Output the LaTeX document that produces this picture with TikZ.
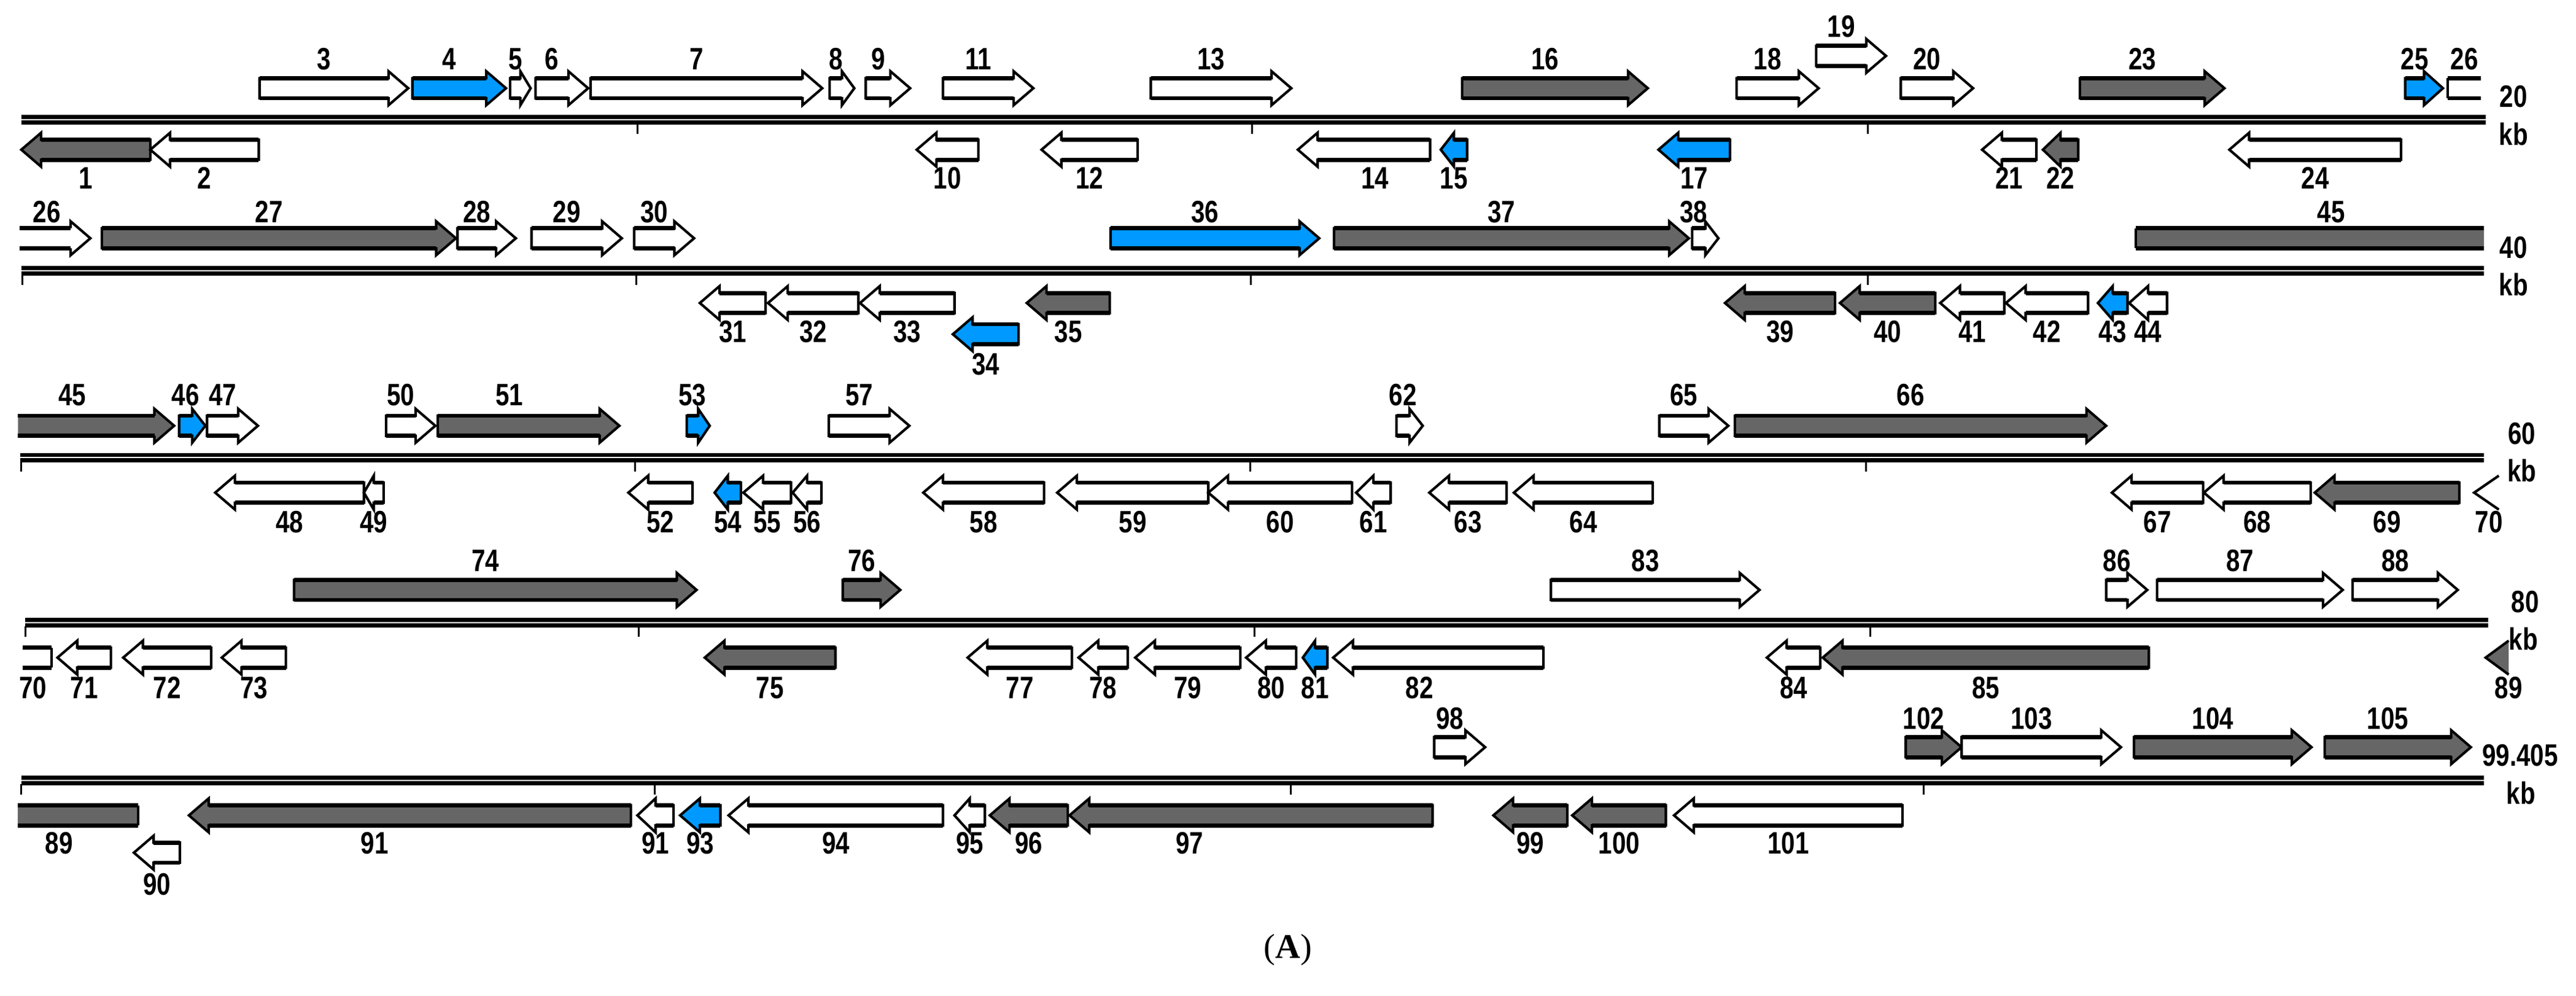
\documentclass[tikz,border=0pt]{standalone}
\usepackage{fontspec}
\setmainfont{Liberation Serif}
\newfontfamily\lblfont[FakeStretch=0.8]{Liberation Sans}
\definecolor{gg}{HTML}{666666}
\definecolor{bb}{HTML}{0099FF}
\newcounter{gn}
\def\bh{6.1}\def\hh{10.3}
\tikzset{thinedge/.style={line width=1.1pt,line join=miter},
 thickedge/.style={line width=1.8pt},
 gline/.style={line width=1.8pt},
 tickline/.style={line width=0.8pt},
 lbl/.style={font=\lblfont\bfseries\fontsize{13.4}{14}\selectfont,inner sep=0pt}}
% forward: [labx]{x1}{x2}{fill}{label}
\newcommand\gF[5][]{\stepcounter{gn}%
 \pgfmathsetmacro\hl{min(12,0.5*(#3-#2))}\pgfmathsetmacro\xa{#3-\hl}%
 \fill[#4] (#2,\yF-\bh) -- (\xa,\yF-\bh) -- (\xa,\yF-\hh) -- (#3,\yF) -- (\xa,\yF+\hh) -- (\xa,\yF+\bh) -- (#2,\yF+\bh) -- cycle;
 \draw[thinedge] (#2,\yF-\bh) -- (\xa,\yF-\bh) -- (\xa,\yF-\hh) -- (#3,\yF) -- (\xa,\yF+\hh) -- (\xa,\yF+\bh) -- (#2,\yF+\bh) -- cycle;
 \draw[thickedge] (#2,\yF-\bh) -- (\xa,\yF-\bh) (#2,\yF+\bh) -- (\xa,\yF+\bh);
 \ifx\relax#1\relax\pgfmathsetmacro\lx{(#2+\xa)/2}\else\def\lx{#1}\fi
 \node[lbl] (g\arabic{gn}) at (\lx,\yT) {#5};}
% forward, open left end
\newcommand\gFo[5][]{\stepcounter{gn}%
 \pgfmathsetmacro\hl{min(12,0.5*(#3-#2))}\pgfmathsetmacro\xa{#3-\hl}%
 \fill[#4] (#2,\yF-\bh) -- (\xa,\yF-\bh) -- (\xa,\yF-\hh) -- (#3,\yF) -- (\xa,\yF+\hh) -- (\xa,\yF+\bh) -- (#2,\yF+\bh) -- cycle;
 \draw[thinedge] (\xa,\yF-\bh) -- (\xa,\yF-\hh) -- (#3,\yF) -- (\xa,\yF+\hh) -- (\xa,\yF+\bh);
 \draw[thickedge] (#2,\yF-\bh) -- (\xa,\yF-\bh) (#2,\yF+\bh) -- (\xa,\yF+\bh);
 \node[lbl] (g\arabic{gn}) at (#1,\yT) {#5};}
% forward box, open right end
\newcommand\gFb[5][]{\stepcounter{gn}%
 \fill[#4] (#2,\yF-\bh) rectangle (#3,\yF+\bh);
 \draw[thinedge] (#2,\yF-\bh) -- (#2,\yF+\bh);
 \draw[thickedge] (#3,\yF-\bh) -- (#2,\yF-\bh) (#2,\yF+\bh) -- (#3,\yF+\bh);
 \node[lbl] (g\arabic{gn}) at (#1,\yT) {#5};}
% reverse
\newcommand\gR[5][]{\stepcounter{gn}%
 \pgfmathsetmacro\hl{min(12,0.5*(#3-#2))}\pgfmathsetmacro\xa{#2+\hl}%
 \fill[#4] (#3,\yR-\bh) -- (\xa,\yR-\bh) -- (\xa,\yR-\hh) -- (#2,\yR) -- (\xa,\yR+\hh) -- (\xa,\yR+\bh) -- (#3,\yR+\bh) -- cycle;
 \draw[thinedge] (#3,\yR-\bh) -- (\xa,\yR-\bh) -- (\xa,\yR-\hh) -- (#2,\yR) -- (\xa,\yR+\hh) -- (\xa,\yR+\bh) -- (#3,\yR+\bh) -- cycle;
 \draw[thickedge] (#3,\yR-\bh) -- (\xa,\yR-\bh) (#3,\yR+\bh) -- (\xa,\yR+\bh);
 \ifx\relax#1\relax\pgfmathsetmacro\lx{(#2+#3)/2}\else\def\lx{#1}\fi
 \node[lbl] (g\arabic{gn}) at (\lx,\yB) {#5};}
% reverse box, open left end
\newcommand\gRb[5][]{\stepcounter{gn}%
 \fill[#4] (#2,\yR-\bh) rectangle (#3,\yR+\bh);
 \draw[thinedge] (#3,\yR-\bh) -- (#3,\yR+\bh);
 \draw[thickedge] (#2,\yR-\bh) -- (#3,\yR-\bh) (#2,\yR+\bh) -- (#3,\yR+\bh);
 \node[lbl] (g\arabic{gn}) at (#1,\yB) {#5};}
% reverse head only
\newcommand\gRh[5][]{\stepcounter{gn}%
 \fill[#4] (#3,\yR-\hh) -- (#2,\yR) -- (#3,\yR+\hh) -- cycle;
 \draw[thinedge] (#3,\yR-\hh) -- (#2,\yR) -- (#3,\yR+\hh);
 \node[lbl] (g\arabic{gn}) at (#1,\yB) {#5};}
% genome line: {L}{x1}{x2}{ticks}
\newcommand\genome[4]{%
 \draw[gline] (#2,#1-1.6) -- (#3,#1-1.6) (#2,#1+1.6) -- (#3,#1+1.6);
 \foreach \t in {#4} {\draw[tickline] (\t,#1+2.4) -- (\t,#1+8.5);}}
\begin{document}
\begin{tikzpicture}[x=0.025cm,y=-0.025cm]
\useasboundingbox (0,0) rectangle (1568,606);
% ---------- row 1
\genome{72.9}{13}{1513}{388,762,1137}
\def\yF{53.7}\def\yR{91.1}\def\yT{36.1}\def\yB{108.4}
\gF{158}{248.5}{white}{3}
\gF{251}{308}{bb}{4}
\gF{310.5}{323}{white}{5}
\gF{326}{358}{white}{6}
\gF{359.5}{500.5}{white}{7}
\gF{505}{520}{white}{8}
\gF{527}{554}{white}{9}
\gF{574}{629}{white}{11}
\gF{700.5}{786}{white}{13}
\gF{890}{1003}{gg}{16}
\gF{1057}{1107}{white}{18}
{\def\yF{34}\def\yT{16.2}\gF{1105.5}{1148}{white}{19}}
\gF{1157}{1201}{white}{20}
\gF{1266}{1354}{gg}{23}
\gF{1464}{1487}{bb}{25}
\gFb[1500]{1490}{1510}{white}{26}
\gR{13}{91.5}{gg}{1}
\gR{91.5}{157.5}{white}{2}
\gR{558}{595.5}{white}{10}
\gR{634}{692.5}{white}{12}
\gR[837]{790}{870.5}{white}{14}
\gR{877}{893}{bb}{15}
\gR{1009.5}{1053}{bb}{17}
\gR{1206.5}{1239.5}{white}{21}
\gR{1243.5}{1265}{gg}{22}
\gR{1357}{1461.5}{white}{24}
\node[lbl] (r1a) at (1530,58.6) {20};
\node[lbl] (r1b) at (1530,81.6) {kb};
% ---------- row 2
\genome{164.8}{13}{1512}{13.5,387.5,761.5,1137}
\def\yF{145}\def\yR{184.4}\def\yT{128.9}\def\yB{201.8}
\gFo[28.5]{12}{55}{white}{26}
\gF{62}{277.5}{gg}{27}
\gF{278.5}{314}{white}{28}
\gF{323.5}{378.5}{white}{29}
\gF{386}{422.5}{white}{30}
\gF{676}{803}{bb}{36}
\gF{812}{1028}{gg}{37}
\gF[1031]{1030}{1046}{white}{38}
\gFb[1419]{1300}{1512}{gg}{45}
\gR{426}{466}{white}{31}
\gR{467.5}{522.5}{white}{32}
\gR{523.5}{581}{white}{33}
{\def\yR{203.4}\def\yB{221.7}\gR{580}{620}{bb}{34}}
\gR{625}{675.5}{gg}{35}
\gR{1050}{1117}{gg}{39}
\gR{1120}{1178}{gg}{40}
\gR{1181}{1220}{white}{41}
\gR{1221}{1271}{white}{42}
\gR{1277}{1295}{bb}{43}
\gR{1296}{1319}{white}{44}
\node[lbl] (r2a) at (1530,150.7) {40};
\node[lbl] (r2b) at (1530,173.2) {kb};
% ---------- row 3
\genome{278.5}{12.5}{1512}{13,386.5,761,1136}
\def\yF{259.1}\def\yR{299.8}\def\yT{240.4}\def\yB{317.6}
\gFo[44]{11}{106}{gg}{45}
\gF{109}{125}{bb}{46}
\gF{126}{157}{white}{47}
\gF{235}{265}{white}{50}
\gF[310]{266.5}{377}{gg}{51}
\gF{418}{432}{bb}{53}
\gF{504.5}{553.5}{white}{57}
\gF{850}{866}{white}{62}
\gF{1010}{1052}{white}{65}
\gF{1056}{1282}{gg}{66}
\gR{131}{221.5}{white}{48}
\gR{221.5}{233.5}{white}{49}
\gR{382.5}{421.5}{white}{52}
\gR{435}{451}{bb}{54}
\gR{452.5}{481.5}{white}{55}
\gR{482.5}{500}{white}{56}
\gR{562}{635.5}{white}{58}
\gR{643.5}{735.5}{white}{59}
\gR{735.5}{823}{white}{60}
\gR{825.5}{846.5}{white}{61}
\gR{870}{917}{white}{63}
\gR{921.5}{1006}{white}{64}
\gR{1285.5}{1341}{white}{67}
\gR{1341.5}{1406.5}{white}{68}
\gR{1409}{1497}{gg}{69}
\gRh[1515]{1506}{1521}{white}{70}
\node[lbl] (r3a) at (1535,264) {60};
\node[lbl] (r3b) at (1535,286.5) {kb};
% ---------- row 4
\genome{378.9}{15.5}{1514.5}{15.5,389,763.5,1138.5}
\def\yF{359}\def\yR{400.2}\def\yT{341.4}\def\yB{418.6}
\gF{179}{424}{gg}{74}
\gF{513}{548}{gg}{76}
\gF{944}{1071}{white}{83}
\gF{1282}{1307}{white}{86}
\gF{1313}{1426}{white}{87}
\gF{1432}{1496}{white}{88}
\gRb[20]{14}{31.5}{white}{70}
\gR{35}{67.5}{white}{71}
\gR{75}{128.5}{white}{72}
\gR{135}{174}{white}{73}
\gR{429}{508.5}{gg}{75}
\gR{589}{652.5}{white}{77}
\gR{656.5}{686.5}{white}{78}
\gR{691}{755}{white}{79}
\gR{758.5}{789}{white}{80}
\gR{793}{808}{bb}{81}
\gR[864]{811.5}{939.5}{white}{82}
\gR{1075.5}{1108}{white}{84}
\gR{1109.5}{1308}{gg}{85}
\gRh[1527]{1513}{1527}{gg}{89}
\node[lbl] (r4a) at (1537,366.3) {80};
\node[lbl] (r4b) at (1536,388.7) {kb};
% ---------- row 5
\genome{474.9}{13}{1512}{13,398.5,785.5,1171}
\def\yF{454.7}\def\yR{496.2}\def\yT{437.3}\def\yB{513.3}
\gF{873}{904}{white}{98}
\gF{1160}{1194}{gg}{102}
\gF{1194}{1291}{white}{103}
\gF{1299}{1407}{gg}{104}
\gF{1415}{1504}{gg}{105}
\gRb[36]{11}{84}{gg}{89}
{\def\yR{518.9}\def\yB{538.2}\gR{81.5}{109.5}{white}{90}}
\gR[228]{115}{384}{gg}{91}
\gR{388}{410}{white}{91}
\gR{414}{438.5}{bb}{93}
\gR{443.5}{574}{white}{94}
\gR{581}{599.5}{white}{95}
\gR{602.5}{650}{gg}{96}
\gR[724]{651}{872}{gg}{97}
\gR{909}{954}{gg}{99}
\gR{957}{1014}{gg}{100}
\gR{1019}{1158}{white}{101}
\node[lbl] (r5a) at (1534,459.7) {99.405};
\node[lbl] (r5b) at (1534.5,482.7) {kb};
% caption
\node[font=\fontsize{15}{17}\selectfont,inner sep=0pt] (cap) at (784,578) {(\textbf{A})};
\end{tikzpicture}
\end{document}
